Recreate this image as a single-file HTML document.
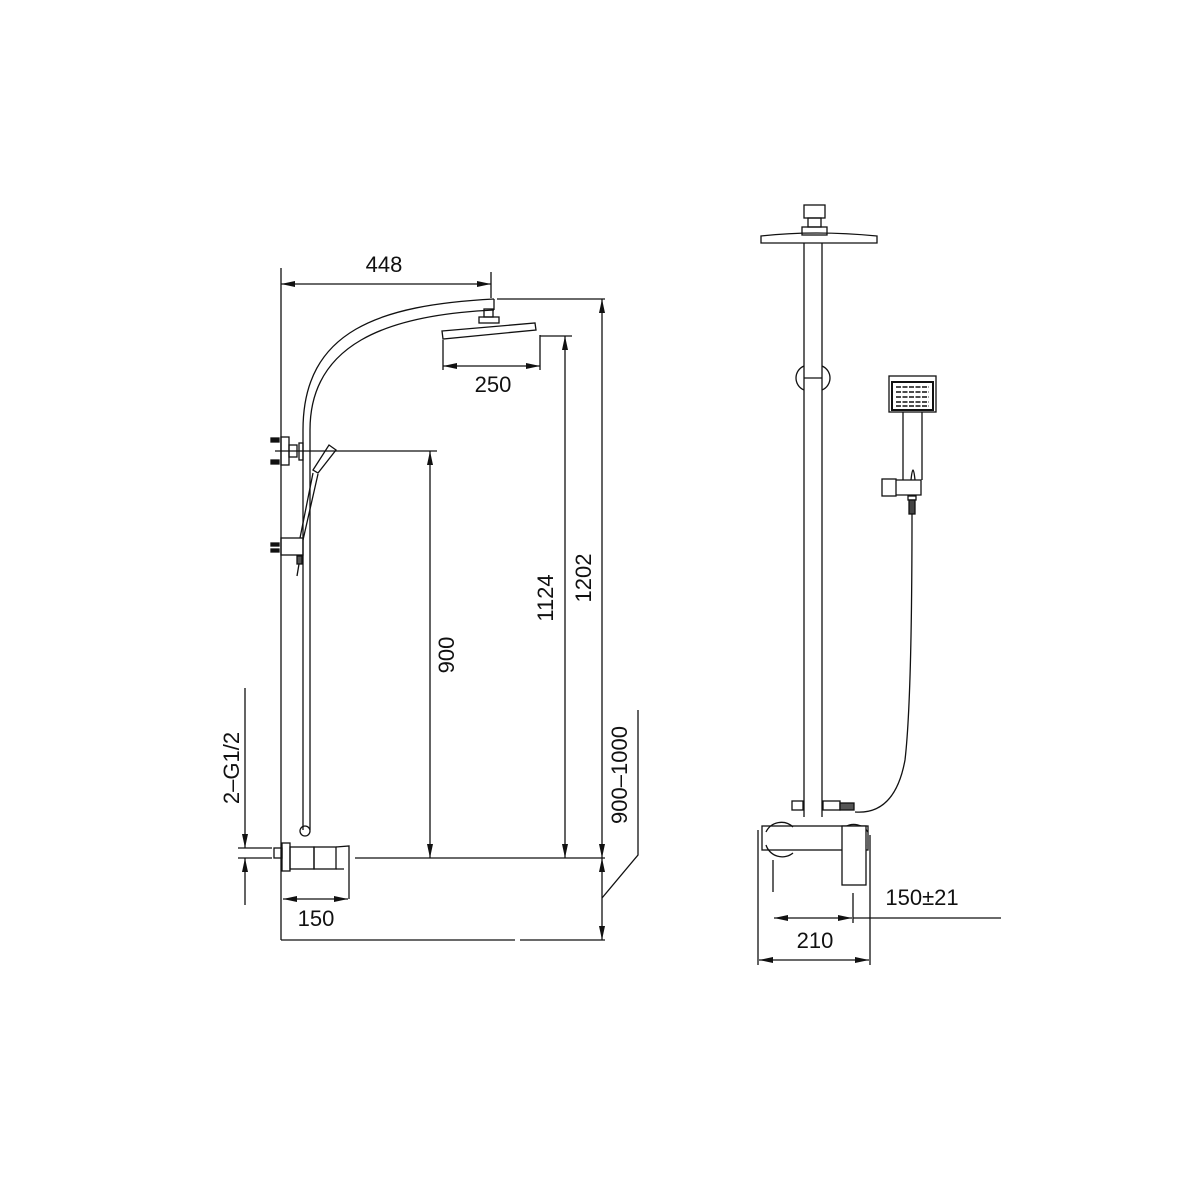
<!DOCTYPE html>
<html><head><style>html,body{margin:0;background:#fff}svg{display:block}</style></head><body>
<svg width="1200" height="1200" viewBox="0 0 1200 1200" xmlns="http://www.w3.org/2000/svg" font-family="Liberation Sans, sans-serif" fill="none" stroke="#111" stroke-width="1.3">
<defs>
<marker id="a" viewBox="0 0 14 6" refX="14" refY="3" markerWidth="14" markerHeight="6" markerUnits="userSpaceOnUse" orient="auto-start-reverse"><path d="M0,0 L14,3 L0,6Z" fill="#111" stroke="none"/></marker>
</defs>
<!-- LEFT VIEW -->
<line x1="281" y1="268" x2="281" y2="940"/>
<line x1="281" y1="284" x2="491" y2="284" marker-start="url(#a)" marker-end="url(#a)"/>
<line x1="491" y1="272" x2="491" y2="298"/>
<text x="384" y="272" font-size="22" fill="#111" stroke="none" text-anchor="middle">448</text>
<path d="M303,830 L303,430 C303,330 380,305 494,299"/>
<path d="M310,830 L310,430 C310,345 385,315 494,310"/>
<line x1="494" y1="299" x2="494" y2="310"/>
<rect x="484" y="309" width="9" height="8"/>
<rect x="479" y="317" width="20" height="6"/>
<path d="M442,331 L535,323 L536,330 L443,339 Z"/>
<line x1="443" y1="340" x2="443" y2="370"/>
<line x1="540" y1="335" x2="540" y2="370"/>
<line x1="443" y1="366" x2="540" y2="366" marker-start="url(#a)" marker-end="url(#a)"/>
<text x="493" y="392" font-size="22" fill="#111" stroke="none" text-anchor="middle">250</text>
<line x1="540" y1="336" x2="572" y2="336"/>
<line x1="565" y1="336" x2="565" y2="858" marker-start="url(#a)" marker-end="url(#a)"/>
<text transform="translate(553,598) rotate(-90)" font-size="22" fill="#111" stroke="none" text-anchor="middle">1124</text>
<line x1="497" y1="299" x2="605" y2="299"/>
<line x1="602" y1="299" x2="602" y2="858" marker-start="url(#a)" marker-end="url(#a)"/>
<text transform="translate(591,578) rotate(-90)" font-size="22" fill="#111" stroke="none" text-anchor="middle">1202</text>
<line x1="316" y1="451" x2="437" y2="451"/>
<line x1="430" y1="451" x2="430" y2="858" marker-start="url(#a)" marker-end="url(#a)"/>
<text transform="translate(454,655) rotate(-90)" font-size="22" fill="#111" stroke="none" text-anchor="middle">900</text>
<line x1="355" y1="858" x2="605" y2="858"/>
<line x1="602" y1="858" x2="602" y2="940" marker-start="url(#a)" marker-end="url(#a)"/>
<polyline points="602,898 638,855 638,710"/>
<text transform="translate(627,775) rotate(-90)" font-size="22" fill="#111" stroke="none" text-anchor="middle">900–1000</text>
<line x1="281" y1="940" x2="515" y2="940"/>
<line x1="520" y1="940" x2="605" y2="940"/>
<line x1="245" y1="688" x2="245" y2="848" marker-end="url(#a)"/>
<line x1="245" y1="905" x2="245" y2="858" marker-end="url(#a)"/>
<line x1="238" y1="848" x2="272" y2="848"/>
<line x1="238" y1="858" x2="272" y2="858"/>
<text transform="translate(239,768) rotate(-90)" font-size="22" fill="#111" stroke="none" text-anchor="middle">2–G1/2</text>
<line x1="283" y1="899" x2="348" y2="899" marker-start="url(#a)" marker-end="url(#a)"/>
<text x="316" y="926" font-size="22" fill="#111" stroke="none" text-anchor="middle">150</text>
<rect x="274" y="848" width="8" height="10"/>
<rect x="282" y="843" width="8" height="28"/>
<rect x="290" y="847" width="24" height="22"/>
<rect x="314" y="847" width="22" height="22"/>
<path d="M336,847 L349,846 L349,899 M336,869 L344,869"/>
<circle cx="305" cy="831" r="5"/>
<rect x="281" y="437" width="8" height="28"/>
<rect x="289" y="445" width="8" height="12"/>
<rect x="299" y="443" width="4" height="17"/>
<rect x="271" y="438" width="8" height="4" fill="#111"/>
<rect x="271" y="460" width="8" height="4" fill="#111"/>
<line x1="275" y1="451" x2="316" y2="451"/>
<rect x="281" y="538" width="22" height="17"/>
<rect x="271" y="543" width="8" height="3" fill="#111"/>
<rect x="271" y="549" width="8" height="3" fill="#111"/>
<path d="M313,470 L329,445 L336,450 L318,473 Z"/>
<path d="M313,473 L300,538 M318,474 L303,540"/>
<rect x="297" y="556" width="5" height="8" fill="#555"/>
<line x1="299" y1="564" x2="297" y2="576"/>
<!-- RIGHT VIEW -->
<rect x="804" y="205" width="21" height="13"/>
<rect x="808" y="218" width="13" height="9"/>
<rect x="802" y="227" width="25" height="8"/>
<path d="M761,243 L761,236 Q815,230 877,236 L877,243 Z"/>
<line x1="804" y1="243" x2="804" y2="817"/>
<line x1="822" y1="243" x2="822" y2="817"/>
<line x1="804" y1="378" x2="822" y2="378"/>
<path d="M804,366 A13,13 0 0 0 804,390 M822,366 A13,13 0 0 1 822,390"/>
<rect x="889" y="376" width="47" height="36"/>
<rect x="892" y="382" width="41" height="28" stroke-width="2"/>
<g stroke-width="1.5" stroke-dasharray="5,1.5">
<line x1="896" y1="387" x2="929" y2="387"/><line x1="896" y1="392" x2="929" y2="392"/><line x1="896" y1="397" x2="929" y2="397"/><line x1="896" y1="402" x2="929" y2="402"/><line x1="896" y1="406" x2="929" y2="406"/></g>
<line x1="903" y1="412" x2="903" y2="480"/>
<line x1="922" y1="412" x2="922" y2="480"/>
<path d="M911,480 Q913,460 915,480"/>
<rect x="882" y="479" width="14" height="17"/>
<path d="M896,480 L921,480 L921,495 L896,495"/>
<rect x="908" y="496" width="8" height="4"/>
<rect x="909" y="500" width="6" height="14" fill="#444"/>
<path d="M912,514 Q912,700 905,760 Q895,815 855,812"/>
<rect x="792" y="801" width="11" height="9"/>
<rect x="823" y="801" width="17" height="9"/>
<rect x="840" y="803" width="14" height="7" fill="#555"/>
<!-- valve body -->
<rect x="762" y="826" width="106" height="24"/>
<path d="M766,832 A17,17 0 0 1 793,827 M766,845 A17,17 0 0 0 793,853 M845,827 A17,17 0 0 1 868,832 M866,845 A12,12 0 0 1 862,852"/>
<rect x="842" y="826" width="24" height="59" fill="#fff"/>
<line x1="758" y1="830" x2="758" y2="965"/>
<line x1="870" y1="835" x2="870" y2="965"/>
<line x1="773" y1="860" x2="773" y2="892"/>
<line x1="853" y1="893" x2="853" y2="923"/>
<line x1="774" y1="918" x2="852" y2="918" marker-start="url(#a)" marker-end="url(#a)"/>
<line x1="853" y1="918" x2="1001" y2="918"/>
<text x="922" y="905" font-size="22" fill="#111" stroke="none" text-anchor="middle">150±21</text>
<line x1="759" y1="960" x2="869" y2="960" marker-start="url(#a)" marker-end="url(#a)"/>
<text x="815" y="948" font-size="22" fill="#111" stroke="none" text-anchor="middle">210</text>
</svg>
</body></html>
